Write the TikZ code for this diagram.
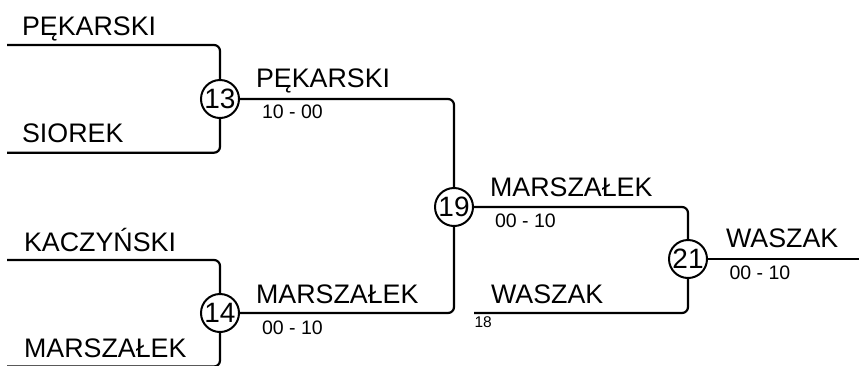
\documentclass[tikz,border=0pt]{standalone}
\usepackage{fontspec}
\setmainfont{Liberation Sans}
\begin{document}
\begin{tikzpicture}[x=1pt,y=-1pt,
  line width=2.2pt,
  match/.style={circle,draw,line width=2pt,minimum size=38pt,inner sep=0pt,fill=white,
    font=\fontsize{28}{30}\selectfont},
  player/.style={anchor=base west,inner sep=0pt,font=\fontsize{26.8}{30}\selectfont},
  score/.style={anchor=base west,inner sep=0pt,font=\fontsize{19.5}{21}\selectfont},
  seed/.style={anchor=base west,inner sep=0pt,font=\fontsize{15.5}{17}\selectfont},
  bline/.style={rounded corners=6pt}]
\useasboundingbox (0,0) rectangle (859,365);
\clip (0,0) rectangle (859,365);
% match nodes
\node[match] (c13) at (220,99) {13};
\node[match] (c14) at (220,313) {14};
\node[match] (c19) at (454,207) {19};
\node[match] (c21) at (688,259) {21};
% free ends
\coordinate (s1) at (7,45);
\coordinate (s2) at (7,152.7);
\coordinate (s3) at (7,260);
\coordinate (s4) at (7,366.5);
\coordinate (s18) at (474,313);
\coordinate (fin) at (860,259);
% connectors
\draw[bline] (s1) -| (c13.north);
\draw[bline] (s2) -| (c13.south);
\draw[bline] (s3) -| (c14.north);
\draw[bline] (s4) -| (c14.south);
\draw[bline] (c13.east) -| (c19.north);
\draw[bline] (c14.east) -| (c19.south);
\draw[bline] (c19.east) -| (c21.north);
\draw[bline] (s18) -| (c21.south);
\draw (c21.east) -- (fin);
% players
\node[player] (p1) at (21,35) {PĘKARSKI};
\node[player] (p2) at (21,142) {SIOREK};
\node[player] (p3) at (23,251) {KACZYŃSKI};
\node[player] (p4) at (23,357) {MARSZAŁEK};
\node[player] (w13) at (255,87.5) {PĘKARSKI};
\node[player] (w14) at (255,303) {MARSZAŁEK};
\node[player] (w19) at (489,196) {MARSZAŁEK};
\node[player] (p18) at (490,303) {WASZAK};
\node[player] (w21) at (725,247) {WASZAK};
% scores
\node[score] (r13) at (261,118.5) {10 - 00};
\node[score] (r14) at (261,334) {00 - 10};
\node[score] (r19) at (494,227) {00 - 10};
\node[score] (r21) at (728.5,279) {00 - 10};
\node[seed] (n18) at (473.5,327.3) {18};
\end{tikzpicture}
\end{document}
